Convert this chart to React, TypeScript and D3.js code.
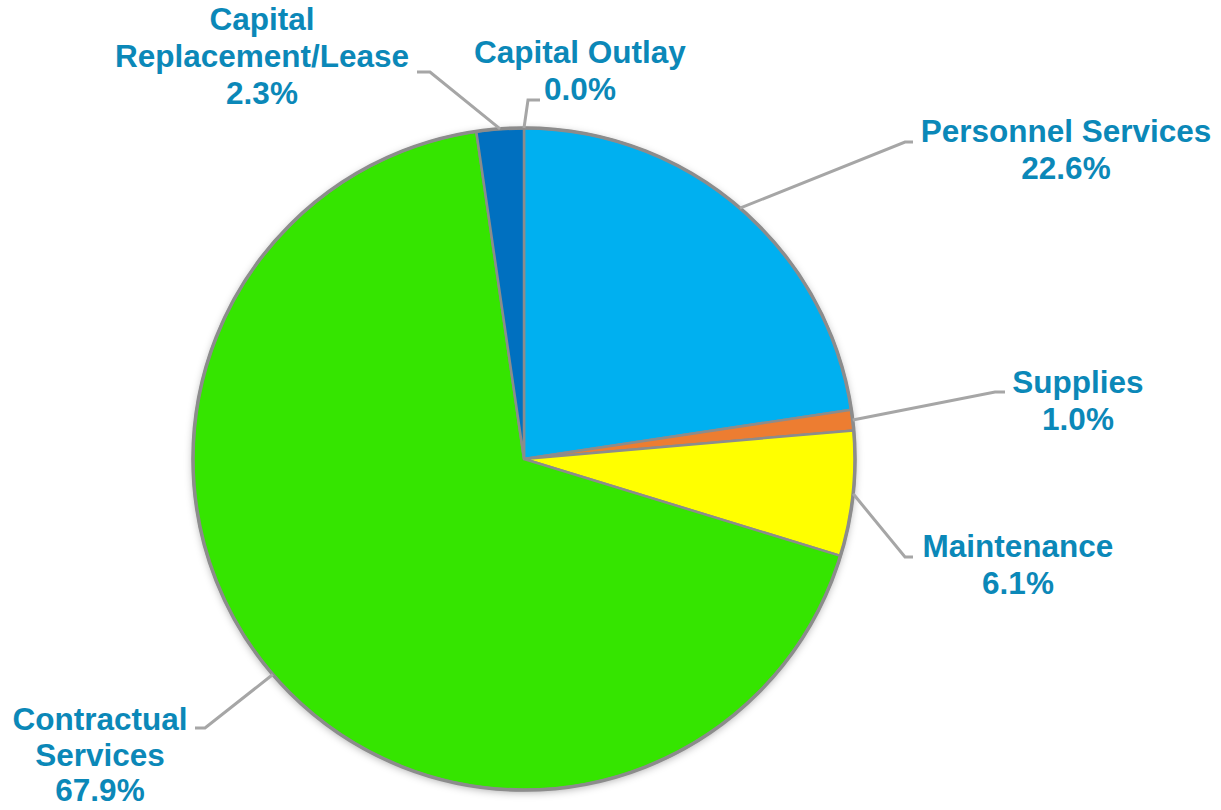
import React from "react";
import * as d3 from "d3";

const categories = [
  "Personnel Services",
  "Supplies",
  "Maintenance",
  "Contractual Services",
  "Capital Replacement/Lease",
  "Capital Outlay",
];
const values = [22.6, 1.0, 6.1, 67.9, 2.3, 0.0];
const colors = ["#00B0F0", "#ED7D31", "#FFFF00", "#35E500", "#0070C0", "#7F7F7F"];
const labelLines = [
  ["Personnel Services", "22.6%"],
  ["Supplies", "1.0%"],
  ["Maintenance", "6.1%"],
  ["Contractual", "Services", "67.9%"],
  ["Capital", "Replacement/Lease", "2.3%"],
  ["Capital Outlay", "0.0%"],
];

// layout: label center x, first baseline y, elbow start point (x,y), elbow join x, line height
const labelLayout = [
  { cx: 1066, y: 142, ex: 913, ey: 142, jx: 905, lh: 37 },
  { cx: 1078, y: 393, ex: 1005, ey: 392, jx: 995, lh: 37 },
  { cx: 1018, y: 557, ex: 913, ey: 557, jx: 905, lh: 37 },
  { cx: 100, y: 730, ex: 195, ey: 728, jx: 205, lh: 35.5 },
  { cx: 262, y: 30, ex: 417, ey: 72, jx: 430, lh: 37 },
  { cx: 580, y: 63, ex: 540, ey: 100, jx: 528, lh: 37 },
];

const W = 1221;
const H = 810;
const CX = 524;
const CY = 459;
const R = 331;

export default function App() {
  const data = categories.map((c, i) => ({ c, v: values[i], i }));
  const pie = d3.pie<any>().value((d) => d.v).sort(null);
  const arcs = pie(data);
  const arc = d3.arc<any>().innerRadius(0).outerRadius(R);
  return (
    <svg
      width={W}
      height={H}
      style={{ position: "absolute", left: 0, top: 0, background: "#fff" }}
    >
      <defs>
        <filter id="sh" x="-20%" y="-20%" width="140%" height="140%">
          <feDropShadow dx="0" dy="2" stdDeviation="4" floodColor="#000" floodOpacity="0.35" />
        </filter>
      </defs>
      <g transform={`translate(${CX},${CY})`}>
        <circle r={R} fill="#8C8C8C" filter="url(#sh)" />
        {arcs.map((a, i) =>
          a.endAngle - a.startAngle > 0 ? (
            <path
              key={i}
              d={arc(a) as string}
              fill={colors[i]}
              stroke="#8C8C8C"
              strokeWidth={2.5}
              strokeLinejoin="round"
            />
          ) : null
        )}
        <circle r={R} fill="none" stroke="#8C8C8C" strokeWidth={3.5} />
      </g>
      {arcs.map((a, i) => {
        const L = labelLayout[i];
        const mid = (a.startAngle + a.endAngle) / 2;
        const px = CX + R * Math.sin(mid);
        const py = CY - R * Math.cos(mid);
        return (
          <polyline
            key={"l" + i}
            points={`${L.ex},${L.ey} ${L.jx},${L.ey} ${px},${py}`}
            fill="none"
            stroke="#A6A6A6"
            strokeWidth={3}
          />
        );
      })}
      {labelLines.map((lines, i) => {
        const L = labelLayout[i];
        return (
          <text
            key={"t" + i}
            textAnchor="middle"
            fontFamily="Liberation Sans, Arial, sans-serif"
            fontWeight="bold"
            fontSize={31.5}
            fill="#0B88B8"
          >
            {lines.map((s, j) => (
              <tspan key={j} x={L.cx} y={L.y + j * L.lh}>
                {s}
              </tspan>
            ))}
          </text>
        );
      })}
    </svg>
  );
}
